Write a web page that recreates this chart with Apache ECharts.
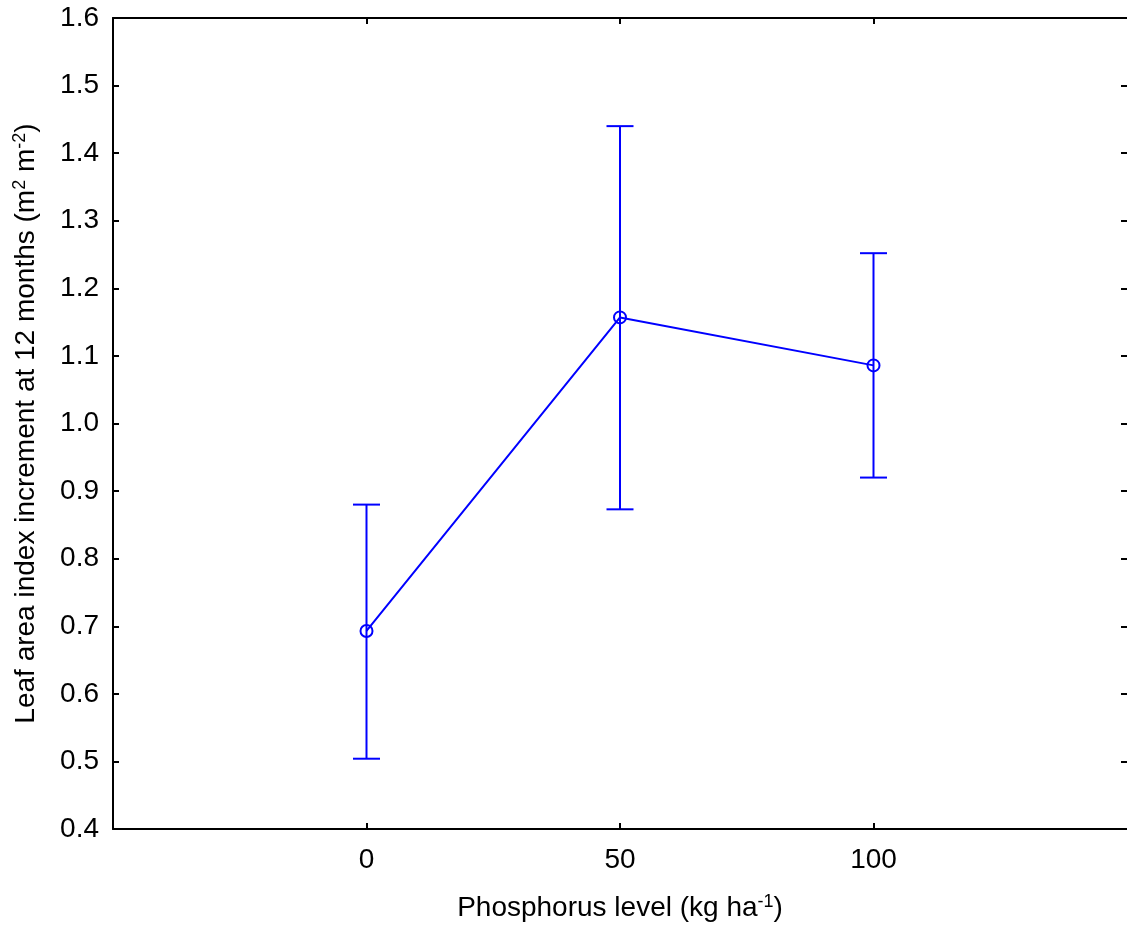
<!DOCTYPE html>
<html>
<head>
<meta charset="utf-8">
<script src="https://cdn.jsdelivr.net/npm/echarts@6/dist/echarts.min.js"></script>
<style>html,body{margin:0;padding:0;background:#fff}#c{width:1127px;height:933px}</style>
</head>
<body>
<div id="c"></div>
<script>
const phosphorus = [0, 50, 100];
const meanLAI = [0.693, 1.157, 1.086];
const lowerLAI = [0.504, 0.873, 0.920];
const upperLAI = [0.880, 1.440, 1.252];
const xTickLabels = [0, 50, 100];

const FONT = 'Liberation Sans';
const BLUE = '#0000ff';
const FS = 28;
const chart = echarts.init(document.getElementById('c'));

const lineData = phosphorus.map((x, i) => [x, meanLAI[i]]);
const errData = phosphorus.map((x, i) => [x, lowerLAI[i], upperLAI[i]]);

const axLine = {show: true, onZero: false, lineStyle: {color: '#000', width: 2}};
const tick = {show: true, inside: true, length: 6, lineStyle: {color: '#000', width: 2}};
const rich = {
  t: {fontFamily: FONT, fontSize: FS, color: '#000'},
  s: {fontFamily: FONT, fontSize: 18, color: '#000', verticalAlign: 'top', padding: [0, 0, 12, 0]}
};

chart.setOption({
  animation: false,
  grid: {left: 113, top: 18, right: 0, bottom: 104},
  xAxis: [{
    type: 'value', min: -50, max: 150, interval: 50,
    axisLine: axLine,
    axisTick: Object.assign({customValues: xTickLabels}, tick),
    axisLabel: {fontFamily: FONT, fontSize: FS, color: '#000', margin: 17,
      customValues: xTickLabels, formatter: v => String(v)},
    splitLine: {show: false},
    name: '{t|Phosphorus level (kg ha}{s|-1}{t|)}',
    nameLocation: 'middle', nameGap: 64,
    nameTextStyle: {rich: rich}
  }, {
    type: 'value', min: -50, max: 150, interval: 50, position: 'top',
    axisLine: axLine,
    axisTick: Object.assign({customValues: xTickLabels}, tick),
    axisLabel: {show: false}, splitLine: {show: false}
  }],
  yAxis: [{
    type: 'value', min: 0.4, max: 1.6, interval: 0.1,
    axisLine: axLine,
    axisTick: tick,
    axisLabel: {fontFamily: FONT, fontSize: FS, color: '#000', margin: 14, formatter: v => v.toFixed(1)},
    splitLine: {show: false},
    name: '{t|Leaf area index increment at 12 months (m}{s|2}{t| m}{s|-2}{t|)}',
    nameLocation: 'middle', nameGap: 72,
    nameTextStyle: {rich: rich}
  }, {
    type: 'value', min: 0.4, max: 1.6, interval: 0.1, position: 'right',
    axisLine: {show: false, onZero: false},
    axisTick: tick,
    axisLabel: {show: false}, splitLine: {show: false}
  }],
  series: [{
    type: 'custom',
    data: errData,
    encode: {x: 0, y: [1, 2]},
    renderItem: function (params, api) {
      const x = api.value(0);
      const lo = api.coord([x, api.value(1)]);
      const hi = api.coord([x, api.value(2)]);
      const hw = 13.5;
      const st = {stroke: BLUE, lineWidth: 2, fill: null};
      return {type: 'group', children: [
        {type: 'line', shape: {x1: lo[0], y1: lo[1], x2: hi[0], y2: hi[1]}, style: st},
        {type: 'line', shape: {x1: lo[0] - hw, y1: lo[1], x2: lo[0] + hw, y2: lo[1]}, style: st},
        {type: 'line', shape: {x1: hi[0] - hw, y1: hi[1], x2: hi[0] + hw, y2: hi[1]}, style: st}
      ]};
    },
    z: 2
  }, {
    type: 'line',
    data: lineData,
    symbol: 'circle', symbolSize: 12,
    lineStyle: {color: BLUE, width: 2},
    itemStyle: {color: 'rgba(0,0,0,0)', borderColor: BLUE, borderWidth: 2},
    z: 3
  }]
});
</script>
</body>
</html>
